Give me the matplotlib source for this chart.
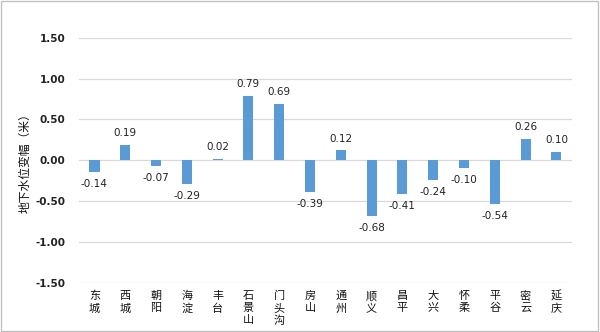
import matplotlib
matplotlib.use("Agg")
import matplotlib.pyplot as plt
from matplotlib.patches import Rectangle

plt.rcParams['font.family'] = ['Noto Sans CJK SC', 'DejaVu Sans']

districts = ["东城", "西城", "朝阳", "海淀", "丰台", "石景山", "门头沟", "房山", "通州",
             "顺义", "昌平", "大兴", "怀柔", "平谷", "密云", "延庆"]
values = [-0.14, 0.19, -0.07, -0.29, 0.02, 0.79, 0.69, -0.39, 0.12,
          -0.68, -0.41, -0.24, -0.10, -0.54, 0.26, 0.10]
yticks = [-1.5, -1.0, -0.5, 0.0, 0.5, 1.0, 1.5]
ylabel = "地下水位变幅（米）"

fig = plt.figure(figsize=(6.0, 3.32), dpi=100)
ax = fig.add_axes([0.1317, 0.1485, 0.8213, 0.7375])

x = list(range(len(districts)))
bars = ax.bar(x, values, width=0.33, color="#5B9BD5", zorder=3)

ax.set_xlim(-0.5, len(districts) - 0.5)
ax.set_ylim(-1.5, 1.5)
ax.set_yticks(yticks)
ax.set_yticklabels([f"{v:.2f}" for v in yticks], fontsize=7.5, fontweight="bold",
                   family=["DejaVu Sans"], color="#222222")
ax.tick_params(axis='y', length=0, pad=10)
ax.tick_params(axis='x', length=0, pad=6)
ax.set_xticks(x)
ax.set_xticklabels(["\n".join(d) for d in districts], fontsize=8, linespacing=1.25,
                   va="top", color="#111111")
ax.grid(axis='y', color="#D9D9D9", linewidth=0.9, zorder=0)
for s in ax.spines.values():
    s.set_visible(False)

for xi, v in zip(x, values):
    if v >= 0:
        ax.annotate(f"{v:.2f}", (xi, v), xytext=(0, 5), textcoords="offset points",
                    ha="center", va="bottom", fontsize=7.5, family=["DejaVu Sans"],
                    color="#222222")
    else:
        ax.annotate(f"{v:.2f}", (xi, v), xytext=(0, -5), textcoords="offset points",
                    ha="center", va="top", fontsize=7.5, family=["DejaVu Sans"],
                    color="#222222")

fig.text(0.042, 0.517, ylabel, rotation=90, ha="center", va="center", fontsize=8.5,
         color="#111111")

fig.patches.append(Rectangle((0.002, 0.003), 0.995, 0.994, transform=fig.transFigure,
                             fill=False, edgecolor="#BFBFBF", linewidth=0.9))

fig.savefig("out.png", dpi=100)
